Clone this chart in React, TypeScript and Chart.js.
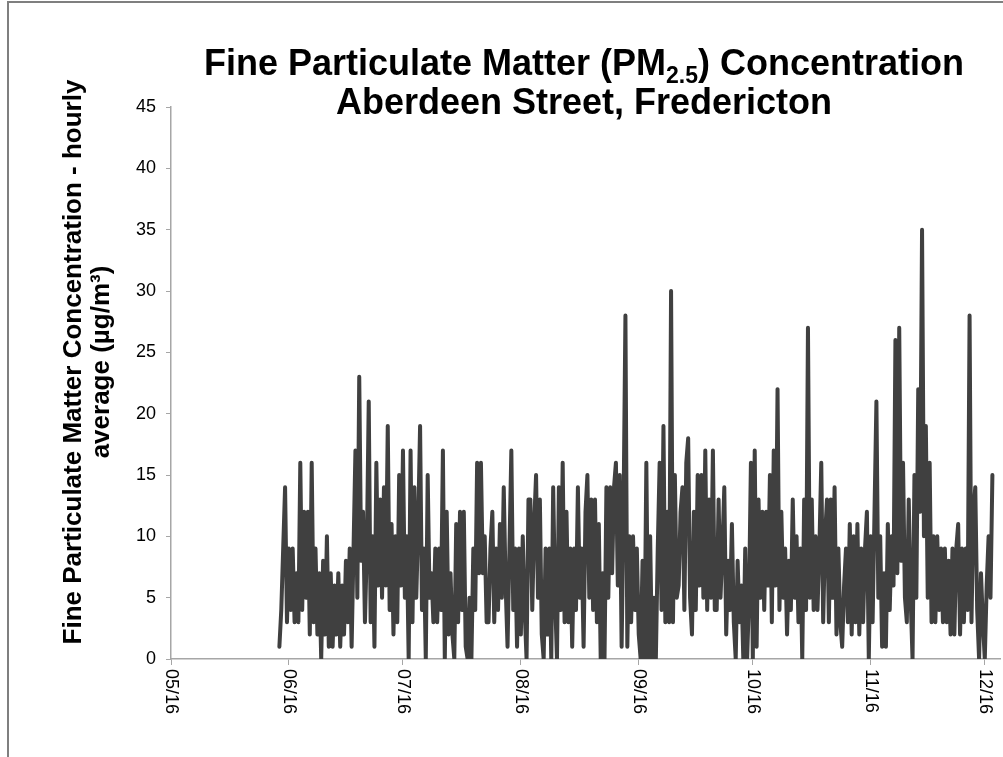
import { useEffect, useRef } from "react";
import { Chart, registerables } from "chart.js";

Chart.register(...registerables);

// ---- data ----
const monthTickDays = [0, 31, 61, 92, 123, 153, 184, 214]; // days since 2016-05-01
const monthTickLabels = ["05/16", "06/16", "07/16", "08/16", "09/16", "10/16", "11/16", "12/16"];
const yTickMax = 45;
const yTickStep = 5;
const seriesStartDay = 28.5;
const seriesStepDays = 0.5;
const pm25Values = [
  1, 4, 9, 14, 3, 9, 4, 9, 3, 7,
  3, 16, 4, 12, 5, 12, 2, 16, 3, 9,
  2, 7, 0, 8, 2, 10, 1, 7, 1, 6,
  2, 7, 1, 6, 2, 8, 3, 9, 1, 9,
  17, 5, 23, 8, 12, 3, 9, 21, 3, 10,
  1, 16, 6, 13, 5, 14, 6, 19, 4, 11,
  2, 10, 3, 15, 6, 17, 5, 10, 0, 17,
  3, 14, 5, 11, 19, 4, 9, 0, 15, 5,
  7, 3, 9, 3, 9, 4, 17, 0, 12, 2,
  7, 2, 0, 11, 3, 12, 4, 12, 1, 0,
  5, 0, 9, 4, 16, 7, 16, 7, 10, 3,
  3, 9, 12, 3, 9, 4, 11, 5, 14, 6,
  1, 9, 17, 4, 9, 1, 9, 2, 10, 4,
  0, 13, 13, 4, 11, 15, 5, 13, 2, 0,
  9, 2, 9, 0, 14, 5, 0, 14, 4, 16,
  3, 12, 3, 9, 1, 9, 4, 14, 5, 9,
  1, 12, 15, 5, 13, 4, 13, 3, 11, 0,
  7, 0, 14, 5, 14, 7, 14, 16, 6, 15,
  1, 12, 28, 1, 10, 3, 10, 4, 9, 2,
  0, 8, 0, 16, 0, 10, 0, 5, 0, 9,
  16, 4, 19, 3, 12, 3, 30, 3, 15, 5,
  6, 12, 14, 4, 16, 18, 5, 2, 12, 4,
  15, 6, 15, 5, 17, 4, 13, 5, 17, 4,
  4, 13, 5, 9, 14, 2, 8, 4, 11, 3,
  0, 8, 3, 6, 0, 9, 0, 5, 16, 0,
  17, 1, 13, 5, 12, 4, 12, 6, 15, 3,
  17, 6, 22, 4, 12, 5, 9, 2, 8, 4,
  13, 5, 10, 3, 9, 0, 13, 4, 27, 5,
  13, 4, 10, 4, 9, 16, 3, 10, 13, 3,
  13, 5, 14, 2, 9, 3, 1, 6, 9, 3,
  11, 2, 10, 3, 11, 2, 9, 3, 9, 12,
  0, 10, 3, 12, 21, 5, 10, 1, 7, 1,
  11, 4, 10, 6, 26, 7, 27, 8, 16, 5,
  3, 13, 5, 0, 15, 5, 22, 12, 35, 10,
  19, 5, 16, 3, 10, 3, 10, 4, 9, 3,
  9, 3, 8, 2, 9, 2, 9, 11, 2, 9,
  3, 9, 4, 28, 3, 12, 14, 4, 0, 7,
  3, 0, 6, 10, 5, 15,
];

const titleParts = ["Fine Particulate Matter (PM", "2.5", ") Concentration"];
const titleLine2 = "Aberdeen Street, Fredericton";
const yTitleLines = ["Fine Particulate Matter Concentration - hourly", "average (\u00b5g/m\u00b3)"];

const W = 1003;
const H = 757;
const FONT = '"Liberation Sans", Arial, sans-serif';

const decorPlugin = {
  id: "decor",
  afterDraw(chart: any) {
    const ctx: CanvasRenderingContext2D = chart.ctx;
    ctx.save();
    // outer frame (top + left visible)
    ctx.strokeStyle = "#7f7f7f";
    ctx.lineWidth = 2;
    ctx.beginPath();
    ctx.moveTo(8, H + 2);
    ctx.lineTo(8, 2);
    ctx.lineTo(W + 2, 2);
    ctx.stroke();

    // title with subscript
    ctx.fillStyle = "#000";
    const big = `bold 36px ${FONT}`;
    const small = `bold 23px ${FONT}`;
    const cx = 584;
    ctx.font = big;
    const w1 = ctx.measureText(titleParts[0]).width;
    const w3 = ctx.measureText(titleParts[2]).width;
    ctx.font = small;
    const w2 = ctx.measureText(titleParts[1]).width;
    let x = cx - (w1 + w2 + w3) / 2;
    const b1 = 75;
    ctx.textAlign = "left";
    ctx.textBaseline = "alphabetic";
    ctx.font = big;
    ctx.fillText(titleParts[0], x, b1);
    x += w1;
    ctx.font = small;
    ctx.fillText(titleParts[1], x, b1 + 8);
    x += w2;
    ctx.font = big;
    ctx.fillText(titleParts[2], x, b1);
    ctx.textAlign = "center";
    ctx.fillText(titleLine2, cx, 114);

    // y axis title
    ctx.font = `bold 26px ${FONT}`;
    ctx.textBaseline = "middle";
    const yMid = 362;
    const xs = [74, 102];
    yTitleLines.forEach((line, i) => {
      ctx.save();
      ctx.translate(xs[i], yMid);
      ctx.rotate(-Math.PI / 2);
      ctx.fillText(line, 0, 0);
      ctx.restore();
    });

    // x tick labels (rotated clockwise)
    const xScale = chart.scales.x;
    ctx.font = `18px ${FONT}`;
    ctx.textAlign = "left";
    ctx.textBaseline = "middle";
    monthTickDays.forEach((d, i) => {
      const px = xScale.getPixelForValue(d);
      ctx.save();
      ctx.translate(px, 669);
      ctx.rotate(Math.PI / 2);
      ctx.fillText(monthTickLabels[i], 0, 0);
      ctx.restore();
    });
    ctx.restore();
  },
};

export default function App() {
  const ref = useRef<HTMLCanvasElement | null>(null);
  useEffect(() => {
    if (!ref.current) return;
    const points = pm25Values.map((v, i) => ({ x: seriesStartDay + i * seriesStepDays, y: v }));
    const chart = new Chart(ref.current, {
      type: "line",
      data: {
        datasets: [
          {
            data: points,
            borderColor: "#404040",
            borderWidth: 4,
            pointRadius: 0,
            tension: 0,
            borderJoinStyle: "round",
            borderCapStyle: "round",
            fill: false,
          },
        ],
      },
      options: {
        responsive: false,
        animation: false,
        events: [],
        layout: { padding: { left: 0, top: 107, right: 3, bottom: 0 } },
        plugins: { legend: { display: false }, tooltip: { enabled: false }, title: { display: false } },
        scales: {
          x: {
            type: "linear",
            min: 0,
            max: 218,
            afterBuildTicks: (s: any) => {
              s.ticks = monthTickDays.map((v) => ({ value: v }));
            },
            afterFit: (s: any) => {
              s.height = 98;
            },
            ticks: { display: false },
            grid: { drawOnChartArea: false, drawTicks: true, tickLength: 6, color: "#a6a6a6", lineWidth: 1 },
            border: { color: "#a6a6a6", width: 1.5 },
          },
          y: {
            min: 0,
            max: yTickMax,
            afterFit: (s: any) => {
              s.width = 171;
            },
            ticks: {
              stepSize: yTickStep,
              color: "#000",
              padding: 10,
              font: { family: "Liberation Sans", size: 18 },
            },
            grid: { drawOnChartArea: false, drawTicks: true, tickLength: 5, color: "#a6a6a6", lineWidth: 1 },
            border: { color: "#a6a6a6", width: 1.5 },
          },
        },
      },
      plugins: [decorPlugin],
    });
    return () => chart.destroy();
  }, []);
  return (
    <canvas
      ref={ref}
      width={W}
      height={H}
      style={{ position: "fixed", left: 0, top: 0, width: W, height: H, background: "#fff" }}
    />
  );
}
